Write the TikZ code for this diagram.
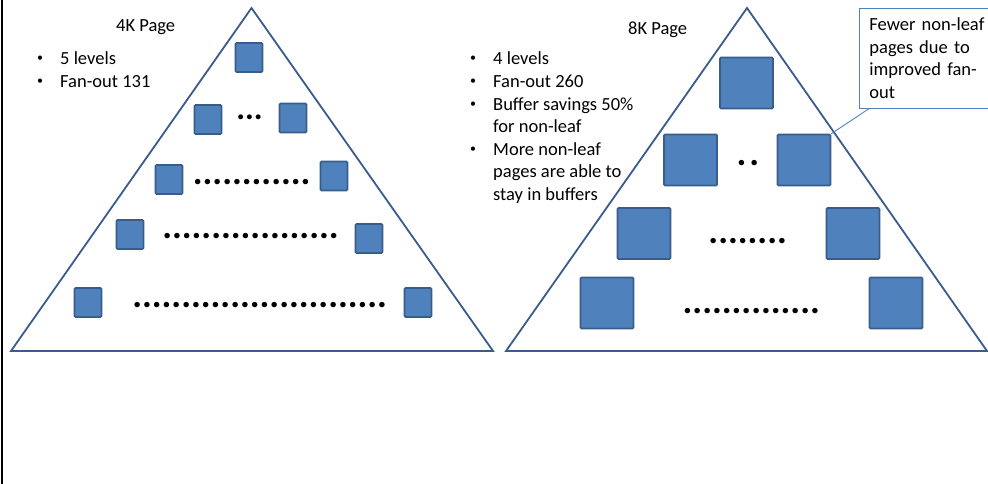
\documentclass[tikz,border=0pt]{standalone}
\usepackage{fontspec}
\setmainfont{Carlito}
\definecolor{pagefill}{HTML}{4F81BD}
\definecolor{pageline}{HTML}{385D8A}
\definecolor{noteline}{HTML}{4F81BD}
\newcommand{\txtsize}{\fontsize{18.5}{22.6}\selectfont}
\newcommand{\blt}{\hspace{2pt}\raisebox{3pt}{\fontsize{12}{12}\selectfont\textbullet}}

\begin{document}
\begin{tikzpicture}[
  x=1pt, y=-1pt,
  tri/.style     = {draw=pageline, line width=1.8pt},
  pg/.style      = {draw=pageline, fill=pagefill, line width=1.6pt,
                    rounded corners=1pt, inner sep=0pt},
  small/.style   = {pg, minimum width=27pt, minimum height=29pt},
  big/.style     = {pg, minimum width=53pt, minimum height=51pt},
  txt/.style     = {inner sep=0pt, font=\txtsize, anchor=base west},
  dotrow/.style  = {inner sep=0pt, anchor=base,
                    font=\fontsize{36.7}{40}\selectfont\bfseries},
  note/.style    = {draw=noteline, line width=0.9pt, anchor=north west,
                    align=left, text width=125pt, inner xsep=10pt,
                    inner ysep=9.5pt, font=\txtsize},
  pointer/.style = {draw=noteline, line width=0.9pt},
]
  \useasboundingbox (0,0) rectangle (988,484);
  \draw[line width=2pt] (1.5,0) -- (1.5,484);

  % 4K tree
  \draw[tri] (251.5,8) -- (493,351) -- (11,351) -- cycle;
  \node[txt] (title4k) at (116,32) {4K Page};
  \node[txt] (list4k) at (35,65) {\begin{tabular}[t]{@{}p{25pt}@{}l@{}}
    \blt & 5 levels\\
    \blt & Fan-out 131
  \end{tabular}};
  \node[small] (a1)  at (249,57.5)  {};
  \node[small] (a2l) at (208,119.5) {};
  \node[small] (a2r) at (293,118)   {};
  \node[small] (a3l) at (169,179.5) {};
  \node[small] (a3r) at (334,176)   {};
  \node[small] (a4l) at (130,234.5) {};
  \node[small] (a4r) at (369,238.5) {};
  \node[small] (a5l) at (88,302.5)  {};
  \node[small] (a5r) at (418,302.5) {};
  \node[dotrow, font=\fontsize{33}{36}\selectfont\bfseries] (da2) at (249.5,120) {...};
  \node[dotrow] (da3) at (251.7,184)   {............};
  \node[dotrow] (da4) at (250.5,238.7) {..................};
  \node[dotrow] (da5) at (259.7,307.7) {..........................};

  % 8K tree
  \draw[tri] (747,8) -- (987,351) -- (506,351) -- cycle;
  \node[txt] (title8k) at (628,35) {8K Page};
  \node[txt] (list8k) at (468,65) {\begin{tabular}[t]{@{}p{25pt}@{}l@{}}
    \blt & 4 levels\\
    \blt & Fan-out 260\\
    \blt & Buffer savings 50\%\\
         & for non-leaf\\
    \blt & More non-leaf\\
         & pages are able to\\
         & stay in buffers
  \end{tabular}};
  \node[big] (b1)  at (746.5,83) {};
  \node[big] (b2l) at (690.5,160) {};
  \node[big] (b2r) at (804,160)   {};
  \node[big] (b3l) at (644,233.5) {};
  \node[big] (b3r) at (853,233.5) {};
  \node[big] (b4l) at (607,303)   {};
  \node[big] (b4r) at (896,303)   {};
  \node[dotrow] (db2) at (748,165) {.\hspace{3pt}.};
  \node[dotrow] (db3) at (747.7,243.7) {........};
  \node[dotrow] (db4) at (751.3,313.7) {..............};

  % callout
  \node[note] (note) at (859,8) {Fewer non-leaf\\ pages due to\\ improved fan-\\ out};
  \draw[pointer] ([xshift=10pt]note.south west) -- (b2r.north east);
\end{tikzpicture}
\end{document}
